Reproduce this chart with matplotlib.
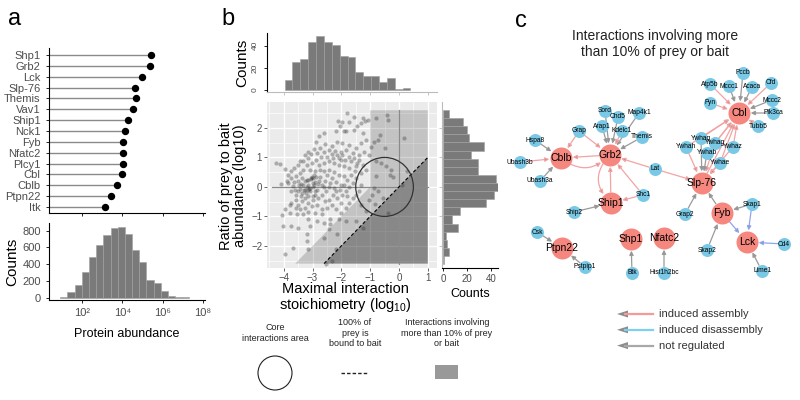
import matplotlib.pyplot as plt
import numpy as np
from matplotlib.patches import Ellipse, Polygon, Rectangle, FancyArrowPatch

plt.rcParams['font.family'] = ['Liberation Sans', 'DejaVu Sans']
plt.rcParams['mathtext.fontset'] = 'custom'
plt.rcParams['mathtext.rm'] = 'Liberation Sans'

W, H = 800, 400
TICK_GREY = '#4d4d4d'

# ---------------- data: panel a ----------------
proteins = ['Shp1', 'Grb2', 'Lck', 'Slp-76', 'Themis', 'Vav1', 'Ship1', 'Nck1',
            'Fyb', 'Nfatc2', 'Plcy1', 'Cbl', 'Cblb', 'Ptpn22', 'Itk']
abundance = [2.75e5, 2.3e5, 1.0e5, 4.5e4, 4.7e4, 3.5e4, 2.0e4, 1.4e4,
             1.15e4, 1.1e4, 1.05e4, 9.5e3, 5.4e3, 2.7e3, 1.4e3]
abund_hist_range = (0.93, 7.33)   # log10 range of histogram
abund_hist_counts = [10, 64, 151, 306, 482, 629, 748, 836, 848, 756, 569, 430,
                     211, 171, 80, 24, 8, 4]

# ---------------- data: panel b ----------------
stoich_hist_range = (-3.97, 0.4)
stoich_hist_counts = [9, 25, 28, 43, 49, 43, 41, 31, 30, 16, 13, 13, 7, 11, 1, 2]
ratio_hist_range = (-2.62, 2.61)
ratio_hist_counts = [1, 5, 3, 2, 12, 7, 14, 36, 43, 47, 44, 29, 29, 23, 34, 22, 20, 17, 5]

pts = [
    (-1.82, 2.49), (-1.55, 2.38), (-1.96, 2.21), (-2.1, 2.24), (-1.73, 2.19), (-1.26, 2.33),
    (-1.08, 2.27), (-1.32, 2.16), (-1.44, 2.08), (-1.18, 2.24), (-2.06, 2.08), (-1.91, 1.9),
    (-1.55, 1.93), (-1.85, 1.88), (-2.2, 1.88), (-2.61, 1.82), (-2.79, 1.71), (-2.88, 1.54),
    (-0.81, 2.33), (-0.41, 2.44), (-0.38, 2.27), (0.19, 1.65), (-0.67, 1.76), (-1.26, 1.82),
    (-1.14, 1.6), (-0.88, 1.54), (-0.73, 1.6), (-0.49, 1.31), (-0.96, 1.37), (-1.32, 1.48),
    (-1.49, 1.31), (-1.73, 1.43), (-1.96, 1.48), (-2.14, 1.54), (-2.32, 1.4), (-2.55, 1.45),
    (-2.73, 1.31), (-2.96, 1.29), (-3.14, 1.2), (-2.61, 1.2), (-2.44, 1.26), (-2.22, 1.22),
    (-2.02, 1.18), (-1.85, 1.26), (-1.61, 1.15), (-1.4, 1.09), (-1.2, 1.2), (-1.05, 1.07),
    (-0.79, 0.89), (-0.61, 0.81), (-0.44, 0.7), (-0.26, 0.58), (-0.32, 0.42), (-0.22, 0.33),
    (0.27, 0.55), (0.09, 0.08), (-0.81, 0.36), (-0.87, -0.03), (-0.73, -0.15), (-0.93, -0.26),
    (-0.82, -0.57), (-0.55, -0.39), (-0.38, -0.88), (-1.05, -0.46), (-1.32, 0.06), (-1.61, 0.13),
    (-2.44, -1.44), (-2.41, -1.27), (-3.08, -1.33), (-3.49, -1.38), (-3.75, -1.33), (-4.02, -1.33),
    (-4.06, -0.96), (-3.96, -2.26), (-3.67, -2.08), (-3.2, -1.83), (-3.18, -1.58), (-2.61, -1.72),
    (-2.2, -2.11), (-2.32, -2.51), (-2.53, -2.6),
    (-3.85, 0.42), (-3.73, 0.53), (-3.59, 0.38), (-3.44, 0.47), (-3.32, 0.58), (-3.2, 0.73),
    (-3.08, 0.58), (-3.85, 0.13), (-3.67, 0.02), (-3.75, -0.15), (-3.59, -0.26), (-3.44, -0.06),
    (-3.38, -0.21), (-3.26, -0.09), (-3.16, 0.06), (-3.08, -0.15), (-3.0, -0.01), (-2.93, 0.17),
    (-2.88, 0.33), (-2.96, 0.42), (-2.79, 0.19), (-2.73, 0.33), (-2.67, 0.08), (-2.85, -0.09),
    (-2.93, -0.26), (-3.14, -0.31), (-3.26, -0.37), (-3.35, -0.48), (-3.49, -0.6), (-3.59, -0.46),
    (-3.73, -0.54), (-3.79, -0.6), (-3.14, -0.54), (-3.0, -0.46), (-2.81, -0.39), (-2.67, -0.26),
    (-2.53, -0.15), (-2.44, -0.01), (-2.58, -0.48), (-2.44, -0.43), (-2.29, -0.26), (-2.2, -0.15),
    (-2.14, -0.37), (-2.02, -0.54), (-1.96, -0.26), (-1.85, -0.15), (-1.73, -0.01), (-2.02, 0.08),
    (-2.2, 0.17), (-2.34, 0.3), (-2.49, 0.42), (-2.61, 0.53), (-2.44, 0.58), (-2.26, 0.51),
    (-2.08, 0.42), (-1.91, 0.36), (-1.79, 0.25), (-1.67, 0.42), (-1.49, 0.3), (-1.52, 0.53),
    (-1.73, 0.64), (-1.91, 0.7), (-2.08, 0.75), (-2.26, 0.81), (-2.44, 0.89), (-2.61, 0.81),
    (-2.79, 0.75), (-2.88, 0.92), (-2.7, 1.0), (-2.49, 1.03), (-2.29, 0.98), (-2.08, 0.98),
    (-1.87, 0.92), (-1.67, 0.87), (-1.44, 0.81), (-1.26, 0.75), (-1.14, 0.58), (-1.32, 0.47),
    (-3.02, 0.81), (-3.14, 0.98), (-3.32, 0.87), (-3.49, 0.75), (-3.64, 0.64), (-3.96, 0.62),
    (-4.14, 0.78), (-4.26, 0.81), (-3.14, 0.25), (-3.26, 0.19), (-3.38, 0.3), (-3.52, 0.21),
    (-3.64, 0.17), (-3.32, 0.08), (-3.47, 0.08), (-3.2, 0.25), (-3.05, 0.3), (-3.0, 0.13),
    (-3.11, -0.06), (-3.23, -0.2), (-3.4, -0.31), (-3.52, -0.15), (-3.61, -0.09), (-3.59, -0.71),
    (-3.44, -0.76), (-3.26, -0.71), (-3.02, -0.65), (-2.85, -0.6), (-2.67, -0.76), (-2.49, -0.71),
    (-2.34, -0.62), (-2.2, -0.76), (-2.02, -0.88), (-1.85, -0.71), (-1.73, -0.54), (-1.61, -0.39),
    (-1.79, -0.31), (-1.49, -0.26), (-1.38, -0.15), (-2.67, -0.93), (-2.91, -0.88), (-3.14, -0.84),
    (-3.32, -0.93), (-2.38, -1.1), (-2.08, -1.1), (-1.85, -1.16), (-2.61, -1.21), (-2.85, -1.16),
    (-3.14, -1.1), (-1.49, -1.16), (-2.14, -1.61), (-3.14, -2.11), (-1.26, -1.38), (-1.14, -0.82),
    (-1.32, -0.6), (-3.96, -0.76), (-3.79, -0.88), (-3.55, -0.93), (-3.75, 0.3), (-3.9, 0.21),
    (-4.08, 0.1), (-3.44, 0.87), (-3.26, 1.09), (-3.05, 1.12), (-2.85, 1.15), (-2.32, 1.12),
    (-2.14, 1.09), (-1.96, 1.07), (-1.73, 1.03), (-1.55, 0.98), (-1.38, 0.92), (-1.49, 0.7),
    (-2.91, 0.55), (-2.73, 0.58), (-2.55, 0.21), (-2.38, 0.13), (-2.26, -0.03), (-2.06, -0.09),
    (-1.91, 0.08), (-2.02, 0.92),
    (-3.02, 0.33), (-2.98, 0.3), (-3.05, 0.27), (-3.1, -0.05), (-3.15, -0.1), (-2.95, 0.05),
    (-3.2, 0.0), (-3.3, -0.1), (-2.9, -0.15), (-3.0, -0.3), (-2.8, 0.1), (-2.6, 0.0), (-3.4, 0.1),
]
stoich = [p[0] for p in pts]
ratio = [p[1] for p in pts]

# ---------------- data: panel c (network, positions in figure pixels) ----------------
hubs = {
    'Cbl': (739, 113), 'Cblb': (561, 158), 'Grb2': (610, 155), 'Slp-76': (702, 183),
    'Ship1': (611, 203), 'Fyb': (722, 213), 'Lck': (747, 242), 'Ptpn22': (562, 248),
    'Shp1': (631, 239), 'Nfatc2': (664, 238),
}
preys = {
    'Pccb': (743, 73), 'Atp5b': (710, 84), 'Mccc1': (729, 86), 'Acaca': (752, 87),
    'Cfd': (771, 83), 'Mccc2': (772, 100), 'Pik3ca': (773, 113), 'Tubb5': (758, 126),
    'Fyn': (710, 103), 'Ywhaq': (701, 138), 'Ywhah': (686, 147), 'Ywhag': (715, 143),
    'Ywhab': (707, 153), 'Ywhaz': (733, 147), 'Ywhae': (720, 163), 'Lat': (655, 169),
    'Sord': (605, 111), 'Chd5': (618, 117), 'Map4k1': (639, 113), 'Arap1': (602, 126),
    'Kdelc1': (622, 131), 'Themis': (642, 137), 'Grap': (579, 131), 'Hspa8': (535, 140),
    'Ubash3b': (520, 162), 'Ubash3a': (540, 181), 'Shc1': (643, 195), 'Ship2': (574, 212),
    'Grap2': (685, 214), 'Skap1': (752, 204), 'Skap2': (707, 250), 'Cd4': (784, 244),
    'Lime1': (762, 271), 'Csk': (537, 232), 'Pstpip1': (585, 267), 'Btk': (632, 273),
    'Hist1h2bc': (664, 273),
}
# a = induced assembly, d = induced disassembly, n = not regulated
edges = [
    ('Pccb', 'Cbl', 'n'), ('Atp5b', 'Cbl', 'a'), ('Mccc1', 'Cbl', 'n'), ('Acaca', 'Cbl', 'n'),
    ('Cfd', 'Cbl', 'a'), ('Mccc2', 'Cbl', 'n'), ('Pik3ca', 'Cbl', 'n'), ('Tubb5', 'Cbl', 'a'),
    ('Fyn', 'Cbl', 'a'), ('Ywhaq', 'Cbl', 'a'), ('Ywhag', 'Cbl', 'a'), ('Ywhab', 'Cbl', 'a'),
    ('Ywhaz', 'Cbl', 'a'), ('Ywhae', 'Cbl', 'a'), ('Ywhah', 'Cbl', 'a'), ('Slp-76', 'Cbl', 'a'),
    ('Ywhaq', 'Slp-76', 'n'), ('Ywhah', 'Slp-76', 'a'), ('Ywhag', 'Slp-76', 'a'),
    ('Ywhab', 'Slp-76', 'n'), ('Ywhaz', 'Slp-76', 'a'), ('Ywhae', 'Slp-76', 'a'),
    ('Lat', 'Slp-76', 'a'), ('Lat', 'Grb2', 'a'), ('Grap2', 'Slp-76', 'n'), ('Fyb', 'Slp-76', 'n'),
    ('Sord', 'Grb2', 'n'), ('Chd5', 'Grb2', 'n'), ('Map4k1', 'Grb2', 'n'), ('Arap1', 'Grb2', 'n'),
    ('Kdelc1', 'Grb2', 'a'), ('Themis', 'Grb2', 'n'), ('Grap', 'Grb2', 'a'), ('Shc1', 'Grb2', 'a'),
    ('Ship1', 'Grb2', 'a'), ('Grb2', 'Cblb', 'a'),
    ('Hspa8', 'Cblb', 'n'), ('Ubash3b', 'Cblb', 'a'), ('Ubash3a', 'Cblb', 'n'), ('Grap', 'Cblb', 'a'),
    ('Ship2', 'Ship1', 'n'), ('Shc1', 'Ship1', 'a'),
    ('Skap1', 'Fyb', 'n'), ('Skap2', 'Fyb', 'n'), ('Fyb', 'Lck', 'd'),
    ('Skap1', 'Lck', 'd'), ('Cd4', 'Lck', 'd'), ('Lime1', 'Lck', 'n'),
    ('Csk', 'Ptpn22', 'n'), ('Pstpip1', 'Ptpn22', 'n'),
    ('Btk', 'Shp1', 'n'), ('Hist1h2bc', 'Nfatc2', 'n'),
]
curved_edges = [('Cblb', 'Grb2', 'a', 0.45), ('Grb2', 'Ship1', 'a', 0.5)]
edge_colors = {'a': '#f4a3a3', 'd': '#8fa6ee', 'n': '#9a9a9a'}
legend_labels = [('a', 'induced assembly'), ('d', 'induced disassembly'), ('n', 'not regulated')]
legend_colors = {'a': '#f59a9a', 'd': '#7fd0ef', 'n': '#a8a8a8'}


def px_axes(fig, l, t, r, b):
    return fig.add_axes([l / W, 1 - b / H, (r - l) / W, (b - t) / H])


def classic(ax):
    for s in ['top', 'right']:
        ax.spines[s].set_visible(False)
    for s in ['left', 'bottom']:
        ax.spines[s].set_linewidth(0.8)
    ax.tick_params(colors='black', labelcolor=TICK_GREY, labelsize=8, length=2.5, width=0.6)


fig = plt.figure(figsize=(8, 4), dpi=100)

# ---------------- panel a: lollipop ----------------
ax1 = px_axes(fig, 49, 48, 205, 213)
yy = np.arange(len(proteins))[::-1]
xmin = 10 ** 0.37
ax1.hlines(yy, xmin, abundance, color='#8a8a8a', lw=1)
ax1.plot(abundance, yy, 'o', color='black', ms=4.3)
ax1.set_xscale('log')
ax1.set_xlim(xmin, 10 ** 8.1)
ax1.set_ylim(-0.55, 14.64)
ax1.set_yticks(yy)
ax1.set_yticklabels(proteins)
ax1.set_xticks([1e2, 1e4, 1e6, 1e8])
ax1.set_xticklabels([])
ax1.minorticks_off()
classic(ax1)

# ---------------- panel a: histogram ----------------
ax2 = px_axes(fig, 49, 223, 205, 300)
edges_a = np.logspace(abund_hist_range[0], abund_hist_range[1], len(abund_hist_counts) + 1)
ax2.bar(edges_a[:-1], abund_hist_counts, width=np.diff(edges_a), align='edge',
        color='#7a7a7a', edgecolor='#a0a0a0', linewidth=0.4)
ax2.set_xscale('log')
ax2.set_xlim(xmin, 10 ** 8.1)
ax2.set_ylim(-27, 892)
ax2.set_yticks([0, 200, 400, 600, 800])
ax2.set_xticks([1e2, 1e4, 1e6, 1e8])
ax2.set_xticklabels(['10²', '10⁴', '10⁶', '10⁸'])
ax2.minorticks_off()
classic(ax2)
ax2.set_ylabel('Counts', fontsize=11, labelpad=2)
ax2.set_xlabel('Protein abundance', fontsize=9, labelpad=7)

# ---------------- panel b: main scatter ----------------
ax3 = px_axes(fig, 267, 102, 437, 268)
ax3.set_facecolor('#ebebeb')
ax3.set_xlim(-4.58, 1.32)
ax3.set_ylim(-2.75, 2.88)
ax3.set_xticks([-4, -3, -2, -1, 0, 1])
ax3.set_yticks([-2, -1, 0, 1, 2])
ax3.set_xticks(np.arange(-4.5, 1.5, 1), minor=True)
ax3.set_yticks(np.arange(-2.5, 3, 1), minor=True)
ax3.grid(which='major', color='white', lw=1.0)
ax3.grid(which='minor', color='white', lw=0.5)
ax3.set_axisbelow(True)
for s in ax3.spines.values():
    s.set_visible(False)
ax3.tick_params(colors=TICK_GREY, labelcolor=TICK_GREY, labelsize=7, length=2, width=0.6, pad=1.5)
ax3.tick_params(which='minor', length=0)
ax3.add_patch(Polygon([(-3.6, -2.6), (-1, 0), (-1, 2.6), (1, 2.6), (1, -2.6)],
                      closed=True, fc='black', alpha=0.17, ec='none', zorder=1))
ax3.add_patch(Polygon([(-2.6, -2.6), (1, 1), (1, -2.6)],
                      closed=True, fc='black', alpha=0.3, ec='none', zorder=1))
ax3.plot([-4.4, 1], [0, 0], color='#8a8a8a', lw=0.9, zorder=2)
ax3.plot([0, 0], [-2.6, 2.6], color='#8a8a8a', lw=0.9, zorder=2)
ax3.plot([-2.6, 1], [-2.6, 1], color='black', lw=0.8, ls=(0, (3, 2)), zorder=2)
ax3.scatter(stoich, ratio, s=9, color='#333333', alpha=0.35, lw=0, zorder=3)
ax3.add_patch(Ellipse((-0.5, 0), 2, 2, fill=False, ec='#333333', lw=0.9, zorder=4))

# top histogram
ax4 = px_axes(fig, 267, 33, 437, 92)
edges_t = np.linspace(stoich_hist_range[0], stoich_hist_range[1], len(stoich_hist_counts) + 1)
ax4.bar(edges_t[:-1], stoich_hist_counts, width=np.diff(edges_t), align='edge',
        color='#7a7a7a', edgecolor='#a0a0a0', linewidth=0.4)
ax4.set_xlim(-4.58, 1.32)
ax4.set_ylim(-1.8, 51.4)
ax4.set_xticks([-4, -3, -2, -1, 0, 1])
ax4.set_xticklabels([])
ax4.set_yticks([0, 20, 40])
classic(ax4)
ax4.spines['bottom'].set_color('#bbbbbb')
ax4.tick_params(axis='x', colors='#bbbbbb')
ax4.tick_params(axis='y', labelsize=6)
for lab in ax4.get_yticklabels():
    lab.set_rotation(90)
    lab.set_va('center')
ax4.set_ylabel('Counts', fontsize=11, labelpad=2)

# right histogram
ax5 = px_axes(fig, 442, 102, 498, 268)
edges_r = np.linspace(ratio_hist_range[0], ratio_hist_range[1], len(ratio_hist_counts) + 1)
ax5.barh(edges_r[:-1], ratio_hist_counts, height=np.diff(edges_r), align='edge',
         color='#7a7a7a', edgecolor='#a0a0a0', linewidth=0.4)
ax5.set_ylim(-2.75, 2.88)
ax5.set_xlim(-1.1, 46.1)
ax5.set_xticks([0, 20, 40])
ax5.set_yticks([-2, -1, 0, 1, 2])
ax5.set_yticklabels([])
classic(ax5)
ax5.tick_params(axis='x', labelsize=7, pad=1.5)
ax5.tick_params(axis='y', colors='#bbbbbb')
ax5.spines['left'].set_color('#bbbbbb')
ax5.set_xlabel('Counts', fontsize=9, labelpad=3)

# ---------------- overlay: labels, network, legends ----------------
ov = fig.add_axes([0, 0, 1, 1], zorder=-1)
ov.set_xlim(0, W)
ov.set_ylim(H, 0)
ov.axis('off')

ov.text(15, 19, 'a', fontsize=17, ha='center', va='center')
ov.text(228, 19, 'b', fontsize=17, ha='center', va='center')
ov.text(521, 21, 'c', fontsize=17, ha='center', va='center')

ov.text(233, 186, 'Ratio of prey to bait\nabundance (log10)', fontsize=10.5, rotation=90,
        ha='center', va='center', linespacing=1.05)
ov.text(345, 298, 'Maximal interaction\nstoichiometry (log$_{10}$)', fontsize=10.5,
        ha='center', va='center', linespacing=1.0)

# panel b legend
ov.text(275, 333, 'Core\ninteractions area', fontsize=6.5, ha='center', va='center', color='#222222')
ov.text(355, 333, '100% of\nprey is\nbound to bait', fontsize=6.5, ha='center', va='center', color='#222222')
ov.text(447, 333, 'Interactions involving\nmore than 10% of prey\nor bait', fontsize=6.5,
        ha='center', va='center', color='#222222')
ov.add_patch(Ellipse((275, 373), 34, 34, fill=False, ec='#222222', lw=0.8))
ov.plot([341, 368], [373, 373], color='#222222', lw=1, ls=(0, (2.5, 1.5)))
ov.add_patch(Rectangle((435, 365), 23, 14, fc='#999999', ec='none'))

# panel c
ov.text(655, 44, 'Interactions involving more\nthan 10% of prey or bait', fontsize=10,
        ha='center', va='center', color='#222222', linespacing=1.2)

pos = dict(hubs)
pos.update(preys)
rad = {n: 11 for n in hubs}
rad.update({n: 6.5 for n in preys})
px2pt = 72 / 100


def draw_edge(src, dst, kind, rad_c=0.0):
    arr = FancyArrowPatch(pos[src], pos[dst], arrowstyle='-|>', mutation_scale=6,
                          connectionstyle=f'arc3,rad={rad_c}',
                          shrinkA=rad[src] * px2pt, shrinkB=rad[dst] * px2pt + 0.5,
                          color=edge_colors[kind], lw=0.9, zorder=2)
    arr.set_facecolor('#8c8c8c')
    ov.add_patch(arr)


for src, dst, kind in edges:
    draw_edge(src, dst, kind)
for src, dst, kind, rc in curved_edges:
    draw_edge(src, dst, kind, rc)

hx = [pos[n][0] for n in hubs]
hy = [pos[n][1] for n in hubs]
ov.scatter(hx, hy, s=(22 * px2pt) ** 2, color='#f6877f', lw=0, zorder=3)
bx = [pos[n][0] for n in preys]
by = [pos[n][1] for n in preys]
ov.scatter(bx, by, s=(13 * px2pt) ** 2, color='#79c9e6', lw=0, zorder=3)
for n in hubs:
    ov.text(pos[n][0], pos[n][1], n, fontsize=7.5, ha='center', va='center', zorder=4)
for n in preys:
    ov.text(pos[n][0], pos[n][1], n, fontsize=4.8, ha='center', va='center', zorder=4)

# network legend
for i, (kind, lab) in enumerate(legend_labels):
    y = 314 + i * 15.8
    ov.plot([625, 653], [y, y], color=legend_colors[kind], lw=1.6)
    ov.add_patch(Polygon([(617, y), (628, y - 3.5), (628, y + 3.5)], closed=True,
                         fc='#8c8c8c', ec='none'))
    ov.text(659, y, lab, fontsize=8, ha='left', va='center', color='#333333')

fig.savefig('out.png', dpi=100)
